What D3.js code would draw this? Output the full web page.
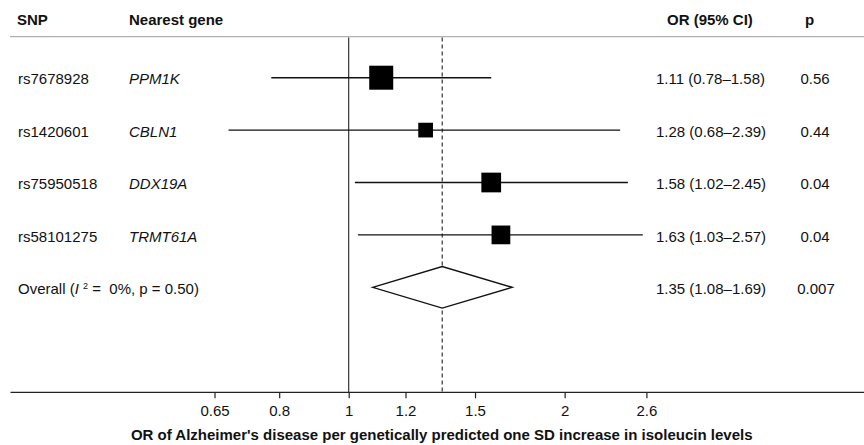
<!DOCTYPE html>
<html>
<head>
<meta charset="utf-8">
<script src="https://cdn.jsdelivr.net/npm/d3@7"></script>
<style>
  body { margin: 0; background: #fff; }
  svg { display: block; font-family: "Liberation Sans", Arial, Helvetica, sans-serif; }
</style>
</head>
<body>
<svg id="chart" width="864" height="445"></svg>
<script>
// ---- data ----
const snps = ["rs7678928", "rs1420601", "rs75950518", "rs58101275"];
const genes = ["PPM1K", "CBLN1", "DDX19A", "TRMT61A"];
const orValues = [1.11, 1.28, 1.58, 1.63];
const ciLow = [0.78, 0.68, 1.02, 1.03];
const ciHigh = [1.58, 2.39, 2.45, 2.57];
const weights = [37.6, 14.1, 25.4, 22.9];
const pValues = ["0.56", "0.44", "0.04", "0.04"];
const orLabels = ["1.11 (0.78\u20131.58)", "1.28 (0.68\u20132.39)", "1.58 (1.02\u20132.45)", "1.63 (1.03\u20132.57)"];
const overall = { or: 1.35, low: 1.08, high: 1.69, label: "1.35 (1.08\u20131.69)", p: "0.007" };
const tickValues = [0.65, 0.8, 1, 1.2, 1.5, 2, 2.6];
const tickLabels = ["0.65", "0.8", "1", "1.2", "1.5", "2", "2.6"];
const xTitle = "OR of Alzheimer's disease per genetically predicted one SD increase in isoleucin levels";

// ---- layout ----
const svg = d3.select("#chart");
const x = d3.scaleLog().domain([0.65, 2.6]).range([214.5, 646.4]);
const y = d3.scaleLinear().domain([0, 4]).range([77.7, 287.3]);
const side = d3.scaleSqrt().domain([0, 37.6]).range([0, 24]);
const axisY = 392.3, topY = 36.7;
const fs = 15;
const textDy = 6.6;

// header
const hdr = svg.append("g").attr("font-weight", "bold").attr("font-size", fs).attr("fill", "#111");
hdr.append("text").attr("x", 17).attr("y", 25).text("SNP");
hdr.append("text").attr("x", 129).attr("y", 25).text("Nearest gene");
hdr.append("text").attr("x", 667).attr("y", 25).text("OR (95% CI)");
hdr.append("text").attr("x", 805).attr("y", 25).text("p");
svg.append("line").attr("x1", 10).attr("x2", 864).attr("y1", topY).attr("y2", topY)
  .attr("stroke", "#b0b0b0").attr("stroke-width", 1.3);

// reference lines
svg.append("line").attr("x1", x(1)).attr("x2", x(1)).attr("y1", topY + 0.7).attr("y2", axisY)
  .attr("stroke", "#222").attr("stroke-width", 1.1);
svg.append("line").attr("x1", x(overall.or)).attr("x2", x(overall.or)).attr("y1", topY + 0.7).attr("y2", axisY)
  .attr("stroke", "#222").attr("stroke-width", 1.1).attr("stroke-dasharray", "4,3");

// rows
const rows = svg.append("g");
snps.forEach((s, i) => {
  const cy = y(i);
  rows.append("text").attr("x", 18).attr("y", cy + textDy).attr("font-size", fs).attr("fill", "#111").text(s);
  rows.append("text").attr("x", 129).attr("y", cy + textDy).attr("font-size", fs).attr("font-style", "italic").attr("fill", "#111").text(genes[i]);
  rows.append("line").attr("x1", x(ciLow[i])).attr("x2", x(ciHigh[i])).attr("y1", cy).attr("y2", cy)
    .attr("stroke", "#111").attr("stroke-width", 1.4);
  const w = side(weights[i]);
  rows.append("rect").attr("x", x(orValues[i]) - w / 2).attr("y", cy - w / 2).attr("width", w).attr("height", w).attr("fill", "#000");
  rows.append("text").attr("x", 656).attr("y", cy + textDy).attr("font-size", fs).attr("fill", "#111").text(orLabels[i]);
  rows.append("text").attr("x", 815).attr("y", cy + textDy).attr("font-size", fs).attr("text-anchor", "middle").attr("fill", "#111").text(pValues[i]);
});

// overall
const oy = y(4);
const ot = rows.append("text").attr("x", 18).attr("y", oy + textDy).attr("font-size", fs).attr("fill", "#111").attr("xml:space", "preserve");
ot.append("tspan").text("Overall (");
ot.append("tspan").attr("font-style", "italic").text("I ");
ot.append("tspan").attr("font-size", 9).attr("dy", -5).text("2");
ot.append("tspan").attr("dy", 5).text(" =  0%, p = 0.50)");
const dh = 20.8;
rows.append("path")
  .attr("d", `M${x(overall.low)},${oy} L${x(overall.or)},${oy - dh} L${x(overall.high)},${oy} L${x(overall.or)},${oy + dh} Z`)
  .attr("fill", "#fff").attr("stroke", "#111").attr("stroke-width", 1.4);
rows.append("text").attr("x", 656).attr("y", oy + textDy).attr("font-size", fs).attr("fill", "#111").text(overall.label);
rows.append("text").attr("x", 816).attr("y", oy + textDy).attr("font-size", fs).attr("text-anchor", "middle").attr("fill", "#111").text(overall.p);

// axis
const axis = d3.axisBottom(x).tickValues(tickValues).tickFormat((d, i) => tickLabels[i]).tickSize(6).tickSizeOuter(0);
const ag = svg.append("g").attr("transform", `translate(0,${axisY})`).call(axis);
ag.select(".domain").remove();
ag.append("line").attr("x1", 10.5).attr("x2", 864).attr("y1", 0).attr("y2", 0).attr("stroke", "#222").attr("stroke-width", 1.3);
ag.selectAll(".tick line").attr("stroke", "#222").attr("stroke-width", 1.2);
ag.selectAll(".tick text").attr("font-size", fs).attr("fill", "#111").attr("y", 13.5).attr("dy", "0.71em")
  .attr("font-family", "\"Liberation Sans\", Arial, sans-serif");

svg.append("text").attr("x", 441.7).attr("y", 440).attr("text-anchor", "middle").attr("font-size", fs)
  .attr("font-weight", "bold").attr("fill", "#111").text(xTitle);
</script>
</body>
</html>
